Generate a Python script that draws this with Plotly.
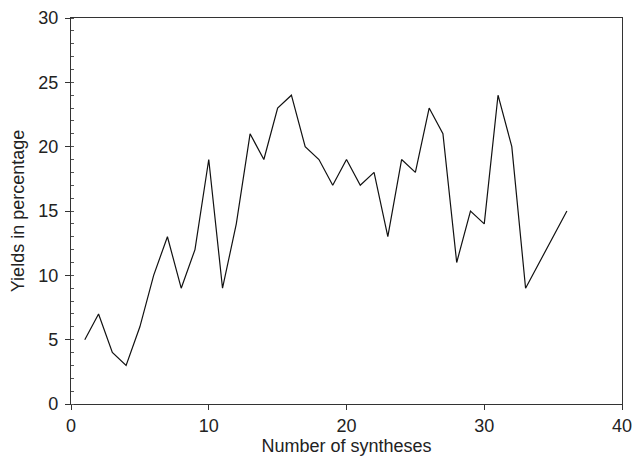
import plotly.graph_objects as go

synthesis_no = list(range(1, 37))
yields = [5, 7, 4, 3, 6, 10, 13, 9, 12, 19, 9, 14, 21, 19, 23, 24, 20, 19, 17, 19,
          17, 18, 13, 19, 18, 23, 21, 11, 15, 14, 24, 20, 9, 11, 13, 15]

x_ticks = [0, 10, 20, 30, 40]
y_ticks = [0, 5, 10, 15, 20, 25, 30]

fig = go.Figure()
fig.add_trace(go.Scatter(x=synthesis_no, y=yields, mode="lines",
                         line=dict(color="#111111", width=1.2), showlegend=False))

font = dict(family="Liberation Sans, Arial, sans-serif", size=18, color="#222222")

fig.update_layout(
    width=634, height=462,
    margin=dict(l=71, r=12, t=18, b=58, autoexpand=False),
    paper_bgcolor="white", plot_bgcolor="white",
    font=font,
)
fig.update_xaxes(
    range=[0, 40], tickvals=x_ticks, ticks="outside", ticklen=5, tickcolor="#333333",
    showline=True, linecolor="#333333", linewidth=1.2, mirror=True,
    showgrid=False, zeroline=False, automargin=False,
    title=dict(text="Number of syntheses", standoff=4, font=dict(size=18)),
    tickfont=dict(size=18),
)
fig.update_yaxes(
    range=[0, 30], tickvals=y_ticks, ticks="outside", ticklen=5, tickcolor="#333333",
    showline=True, linecolor="#333333", linewidth=1.2, mirror=True,
    showgrid=False, zeroline=False, automargin=False,
    ticklabelstandoff=3,
    minor=dict(dtick=1, ticks="inside", ticklen=3, tickcolor="#555555", showgrid=False),
    title=dict(text="Yields in percentage", standoff=8, font=dict(size=18)),
    tickfont=dict(size=18),
)

fig.write_html("out.html", config={"displayModeBar": False},
               post_script="document.body.style.margin='0';document.body.style.overflow='hidden';")
